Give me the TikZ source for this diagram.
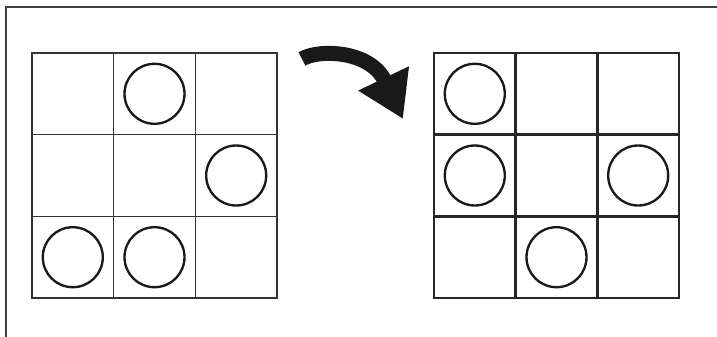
\documentclass[tikz,border=0pt]{standalone}
\usetikzlibrary{arrows.meta, calc}
\tikzset{
    thingrid/.style={
        draw=black!80, line width=1.1pt
    },
    thickgrid/.style={
        draw=black!85, line width=2.1pt
    },
    token/.style={
        circle, draw=black!90, line width=2pt, minimum size=1.8cm, inner sep=0pt
    },
    swaparrow/.style={
        line width=0.45cm, draw=black!90, -{Triangle[length=1.35cm, width=1.59cm]}
    },
    frameline/.style={
        draw=black!75, line width=1.6pt
    }
}

\begin{document}
\begin{tikzpicture}[x=0.03cm, y=-0.03cm]

    \useasboundingbox (0,0) rectangle (717,337);
    \draw[frameline] (6,337) -- (6,7) -- (717,7);

    % before
    \coordinate (before) at (32,53);
    \draw[thingrid] (before) rectangle ++(245,245);
    \foreach \i in {1,2} {
        \draw[thingrid] ($(before)+(81.7*\i,0)$) -- ++(0,245);
        \draw[thingrid] ($(before)+(0,81.7*\i)$) -- ++(245,0);
    }
    \foreach \c/\r in {1/0, 2/1, 0/2, 1/2}
        \node[token] (b-\c-\r) at ($(before)+(81.7*\c+40.8,81.7*\r+40.8)$) {};

    % after
    \coordinate (after) at (434,53);
    \draw[thickgrid] (after) rectangle ++(245,245);
    \foreach \i in {1,2} {
        \draw[thickgrid] ($(after)+(81.7*\i,0)$) -- ++(0,245);
        \draw[thickgrid] ($(after)+(0,81.7*\i)$) -- ++(245,0);
    }
    \foreach \c/\r in {0/0, 0/1, 2/1, 1/2}
        \node[token] (a-\c-\r) at ($(after)+(81.7*\c+40.8,81.7*\r+40.8)$) {};

    \coordinate (tail) at (302,59);
    \coordinate (tip)  at (403,119);
    \draw[swaparrow] (tail) .. controls (318,49) and (370,50) .. (tip);

\end{tikzpicture}
\end{document}
